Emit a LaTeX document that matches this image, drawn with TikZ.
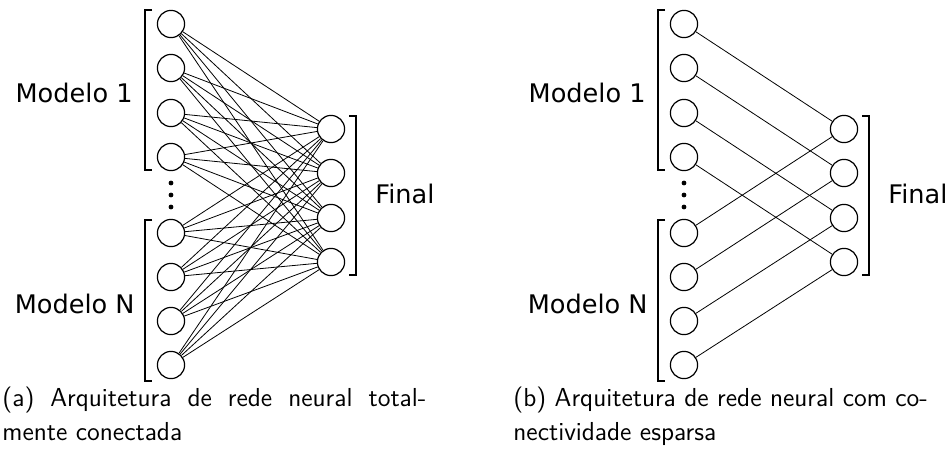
\documentclass[tikz,border=0pt]{standalone}
\usepackage{fontspec}
\newfontfamily\lblfont{DejaVu Sans}
\begin{document}
\begin{tikzpicture}[x=0.5pt,y=-0.5pt,
  neuron/.style={circle,draw,line width=0.6pt,minimum size=13.6pt,inner sep=0pt},
  link/.style={line width=0.4pt},
  brk/.style={line width=0.6pt},
  dotmark/.style={circle,fill,inner sep=0pt,minimum size=2.4pt},
  lbl/.style={font=\lblfont\fontsize{12.8}{15}\selectfont,inner sep=0pt},
  captxt/.style={font=\sffamily\fontsize{13}{15.5}\selectfont,inner sep=0pt,anchor=base west}]
\useasboundingbox (0,0) rectangle (947,450);

\foreach \p/\dx in {a/0,b/513}{
  % input layer: two groups of four neurons
  \foreach \i/\y in {1/24,2/68,3/113,4/157,5/233,6/277,7/321,8/365}
    \node[neuron] (\p-in\i) at (171+\dx,\y) {};
  % output layer
  \foreach \j/\y in {1/129,2/173,3/218,4/262}
    \node[neuron] (\p-out\j) at (331+\dx,\y) {};
  % ellipsis between the groups
  \foreach \k/\y in {1/183,2/195,3/207}
    \node[dotmark] (\p-dot\k) at (171+\dx,\y) {};
  % brackets
  \draw[brk] (152+\dx,10) -- (145+\dx,10) -- (145+\dx,170) -- (152+\dx,170);
  \draw[brk] (152+\dx,220) -- (145+\dx,220) -- (145+\dx,381) -- (152+\dx,381);
  \draw[brk] (349+\dx,116) -- (356+\dx,116) -- (356+\dx,275) -- (349+\dx,275);
  % labels
  \node[lbl,anchor=base east] (\p-m1) at (133+\dx,102) {Modelo 1};
  \node[lbl,anchor=base east] (\p-mn) at (135+\dx,313) {Modelo N};
  \node[lbl,anchor=base west] (\p-fin) at (375+\dx,203) {Final};
}

% fully connected network
\foreach \i in {1,...,8}
  \foreach \j in {1,...,4}
    \draw[link] (a-in\i) -- (a-out\j);

% sparse network: each input feeds a single output
\foreach \i in {1,...,8}{
  \pgfmathtruncatemacro{\j}{mod(\i-1,4)+1}
  \draw[link] (b-in\i) -- (b-out\j);
}

% captions
\node[captxt] (capa1) at (2,406) {\makebox[212pt][s]{(a) Arquitetura de rede neural total-}};
\node[captxt] (capa2) at (2,440) {mente conectada};
\node[captxt] (capb1) at (513,406) {(b) Arquitetura de rede neural com co-};
\node[captxt] (capb2) at (513,440) {nectividade esparsa};
\end{tikzpicture}
\end{document}
